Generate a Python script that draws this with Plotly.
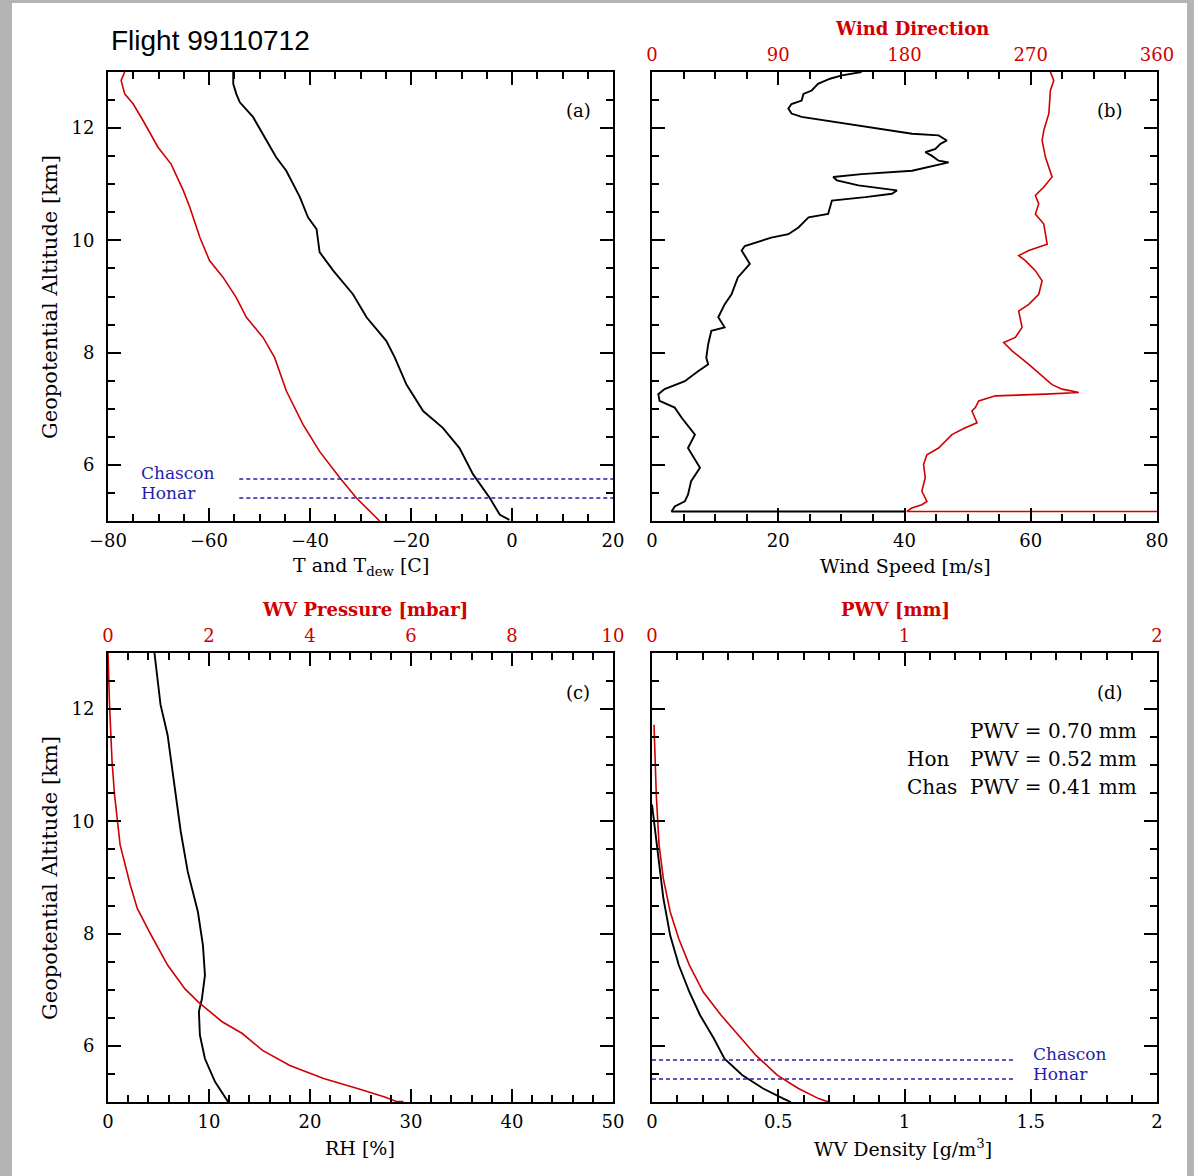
import plotly.graph_objects as go

# ---------------- data ----------------
# Panel (a): temperature and dew point
alt_T = [13.0, 12.79, 12.61, 12.46, 12.2, 11.84, 11.48, 11.24, 10.77, 10.41, 10.20, 9.79, 9.46,
         9.04, 8.63, 8.21, 7.91, 7.43, 6.96, 6.66, 6.30, 5.83, 5.41, 5.11, 5.02]
temp_T = [-55.2, -55.2, -54.6, -53.9, -51.3, -49.0, -46.7, -44.7, -42.0, -40.4, -38.7, -38.1, -35.4,
          -31.5, -28.8, -24.9, -23.2, -20.9, -17.6, -13.7, -10.4, -7.7, -4.4, -2.4, -0.5]
alt_Td = [13.0, 12.85, 12.61, 12.43, 12.14, 11.66, 11.36, 10.89, 10.59, 10.05, 9.64, 9.34, 8.98,
          8.63, 8.27, 7.91, 7.32, 6.72, 6.24, 5.77, 5.41, 5.0]
temp_Td = [-76.7, -77.4, -76.7, -75.0, -73.1, -70.1, -67.5, -65.1, -63.8, -61.8, -59.9, -57.2, -54.6,
           -52.6, -49.3, -47.0, -44.7, -41.4, -38.1, -34.1, -30.8, -26.2]

# Site altitudes (km) and extent of the marker lines
site_names = ["Chascon", "Honar"]
site_alt = [5.75, 5.41]
site_T_range = [-54.0, 20.0]
site_dens_range = [0.0, 1.44]

# Panel (b): wind speed and direction
alt_ws = [13.0, 12.94, 12.88, 12.79, 12.67, 12.61, 12.49, 12.43, 12.35, 12.26, 12.2, 12.08, 11.99,
          11.9, 11.87, 11.78, 11.72, 11.63, 11.57, 11.51, 11.42, 11.39, 11.24, 11.18, 11.13, 11.07,
          10.98, 10.92, 10.89, 10.83, 10.77, 10.71, 10.47, 10.41, 10.23, 10.11, 10.05, 9.9, 9.82,
          9.58, 9.34, 9.04, 8.86, 8.63, 8.45, 8.39, 8.15, 7.91, 7.79, 7.67, 7.49, 7.35, 7.26, 7.14,
          7.02, 6.84, 6.54, 6.30, 6.01, 5.95, 5.71, 5.47, 5.35, 5.26, 5.17, 5.17]
wind_speed = [33.2, 30.1, 28.2, 26.3, 25.3, 24.0, 23.7, 22.1, 21.6, 22.1, 23.7, 30.6, 35.9,
              41.2, 45.4, 46.7, 45.7, 44.9, 43.3, 44.3, 45.4, 47.0, 41.2, 33.2, 28.7, 29.3,
              32.7, 36.9, 38.8, 38.0, 33.8, 28.5, 27.9, 24.8, 23.2, 21.6, 18.9, 14.7, 14.2,
              15.5, 13.6, 12.6, 11.5, 10.5, 11.5, 9.4, 8.9, 8.6, 8.9, 7.3, 5.2, 2.0, 1.0, 1.2,
              3.6, 4.7, 6.8, 5.7, 7.3, 7.6, 6.2, 5.7, 5.2, 3.6, 3.1, 40.0]
alt_wd = [13.0, 12.85, 12.67, 12.26, 11.96, 11.78, 11.48, 11.13, 10.95, 10.8, 10.65, 10.47, 10.29,
          9.93, 9.82, 9.73, 9.64, 9.46, 9.28, 9.04, 8.86, 8.74, 8.45, 8.27, 8.18, 8.03, 7.79,
          7.55, 7.43, 7.35, 7.29, 7.26, 7.23, 7.14, 7.02, 6.96, 6.75, 6.66, 6.54, 6.30, 6.18,
          6.01, 5.77, 5.53, 5.35, 5.29, 5.23, 5.17, 5.17]
wind_dir = [284.0, 286.4, 284.0, 282.9, 279.3, 278.1, 280.5, 285.2, 279.3, 273.3, 275.7, 273.3, 279.3,
            281.7, 268.6, 261.4, 266.2, 273.3, 278.1, 275.7, 268.6, 261.4, 263.8, 259.0, 250.7, 256.7,
            268.6, 279.3, 285.2, 292.4, 304.3, 280.5, 244.8, 232.9, 230.5, 228.1, 231.7, 223.3,
            213.8, 204.3, 196.0, 193.6, 194.8, 192.4, 196.0, 192.4, 185.2, 181.7, 360.0]

# Panel (c): relative humidity and water vapour pressure
alt_rh = [13.0, 12.08, 11.54, 10.59, 9.82, 9.10, 8.39, 7.79, 7.26, 6.84, 6.61, 6.19, 5.77, 5.36, 5.0]
rh = [4.6, 5.2, 5.9, 6.6, 7.2, 7.9, 8.9, 9.4, 9.6, 9.3, 9.0, 9.1, 9.6, 10.6, 11.9]
alt_e = [13.0, 12.08, 11.07, 10.47, 9.58, 8.87, 8.45, 7.98, 7.44, 7.02, 6.78, 6.43, 6.22, 5.92,
         5.65, 5.42, 5.24, 5.09, 5.01, 5.01]
wv_pressure = [0.0, 0.03, 0.08, 0.13, 0.24, 0.44, 0.58, 0.85, 1.18, 1.52, 1.79, 2.26, 2.66, 3.06,
               3.60, 4.27, 4.94, 5.48, 5.71, 5.85]

# Panel (d): water vapour density and integrated PWV
alt_rho = [10.3, 9.46, 8.63, 7.97, 7.44, 6.96, 6.55, 6.13, 5.77, 5.48, 5.24, 5.06, 5.0]
wv_density = [0.0, 0.022, 0.045, 0.072, 0.106, 0.148, 0.19, 0.245, 0.287, 0.357, 0.44, 0.52, 0.55]
alt_pwv = [11.72, 10.47, 9.58, 8.98, 8.39, 7.91, 7.44, 6.96, 6.55, 6.19, 5.83, 5.48, 5.24, 5.06, 5.0]
pwv = [0.008, 0.017, 0.028, 0.045, 0.072, 0.106, 0.148, 0.203, 0.273, 0.343, 0.412, 0.496, 0.58,
       0.66, 0.70]
pwv_labels = ["", "Hon", "Chas"]
pwv_values = ["0.70", "0.52", "0.41"]

# ---------------- styling ----------------
W, H = 1194, 1176
FONT = "DejaVu Serif"
RED = "#d00000"
BLUE = "#1f1fa8"
BLACK = "black"


def px(x):
    return x / W


def py(y):
    return 1 - y / H


XA = [px(108), px(613)]
XB = [px(652), px(1157)]
YTOP = [py(521), py(72)]
YBOT = [py(1102), py(653)]

fig = go.Figure()

# panel a
fig.add_trace(go.Scatter(x=temp_T, y=alt_T, mode="lines", line=dict(color=BLACK, width=1.9),
                         xaxis="x", yaxis="y"))
fig.add_trace(go.Scatter(x=temp_Td, y=alt_Td, mode="lines", line=dict(color=RED, width=1.6),
                         xaxis="x", yaxis="y"))
for a in site_alt:
    fig.add_trace(go.Scatter(x=site_T_range, y=[a, a], mode="lines",
                             line=dict(color=BLUE, width=1.5, dash="4px,3px"), xaxis="x", yaxis="y"))

# panel b
fig.add_trace(go.Scatter(x=wind_speed, y=alt_ws, mode="lines", line=dict(color=BLACK, width=1.9),
                         xaxis="x2", yaxis="y2"))
fig.add_trace(go.Scatter(x=wind_dir, y=alt_wd, mode="lines", line=dict(color=RED, width=1.6),
                         xaxis="x3", yaxis="y2"))

# panel c
fig.add_trace(go.Scatter(x=rh, y=alt_rh, mode="lines", line=dict(color=BLACK, width=1.9),
                         xaxis="x4", yaxis="y3"))
fig.add_trace(go.Scatter(x=wv_pressure, y=alt_e, mode="lines", line=dict(color=RED, width=1.6),
                         xaxis="x5", yaxis="y3"))

# panel d
fig.add_trace(go.Scatter(x=wv_density, y=alt_rho, mode="lines", line=dict(color=BLACK, width=1.9),
                         xaxis="x6", yaxis="y4"))
fig.add_trace(go.Scatter(x=pwv, y=alt_pwv, mode="lines", line=dict(color=RED, width=1.6),
                         xaxis="x7", yaxis="y4"))
for a in site_alt:
    fig.add_trace(go.Scatter(x=site_dens_range, y=[a, a], mode="lines",
                             line=dict(color=BLUE, width=1.5, dash="4px,3px"), xaxis="x6", yaxis="y4"))

TICKFONT = dict(family=FONT, size=18, color=BLACK)


def xaxis(domain, anchor, rng, tickvals, minor_dtick, ticktext=None, side="bottom",
          overlaying=None, mirror=False, color=BLACK):
    d = dict(domain=domain, anchor=anchor, range=rng, tickmode="array", tickvals=tickvals,
             ticks="inside", ticklen=13, tickwidth=1.6, tickcolor=BLACK,
             showline=True, linecolor=BLACK, linewidth=2, mirror=mirror, side=side,
             showgrid=False, zeroline=False, automargin=False, ticklabelstandoff=2,
             tickfont=dict(family=FONT, size=18, color=color),
             minor=dict(dtick=minor_dtick, tick0=0, ticks="inside", ticklen=7, tickwidth=1.6,
                        tickcolor=BLACK, showgrid=False))
    if ticktext is not None:
        d["ticktext"] = ticktext
    if overlaying:
        d["overlaying"] = overlaying
    return d


def yaxis(domain, anchor, labels=True):
    return dict(domain=domain, anchor=anchor, range=[5, 13], tickmode="array",
                tickvals=[6, 8, 10, 12], ticks="inside", ticklen=13, tickwidth=1.6, tickcolor=BLACK,
                showline=True, linecolor=BLACK, linewidth=2, mirror="ticks",
                showgrid=False, zeroline=False, automargin=False, showticklabels=labels,
                ticklabelstandoff=8, tickfont=TICKFONT,
                minor=dict(dtick=0.5, tick0=0, ticks="inside", ticklen=7, tickwidth=1.6,
                           tickcolor=BLACK, showgrid=False))


fig.update_layout(
    xaxis=xaxis(XA, "y", [-80, 20], [-80, -60, -40, -20, 0, 20], 5, mirror="ticks"),
    yaxis=yaxis(YTOP, "x"),
    xaxis2=xaxis(XB, "y2", [0, 80], [0, 20, 40, 60, 80], 5),
    xaxis3=xaxis(XB, "y2", [0, 360], [0, 90, 180, 270, 360], 22.5, side="top",
                 overlaying="x2", color=RED),
    yaxis2=yaxis(YTOP, "x2", labels=False),
    xaxis4=xaxis(XA, "y3", [0, 50], [0, 10, 20, 30, 40, 50], 2),
    xaxis5=xaxis(XA, "y3", [0, 10], [0, 2, 4, 6, 8, 10], 0.4, side="top",
                 overlaying="x4", color=RED),
    yaxis3=yaxis(YBOT, "x4"),
    xaxis6=xaxis(XB, "y4", [0, 2], [0, 0.5, 1, 1.5, 2], 0.1,
                 ticktext=["0", "0.5", "1", "1.5", "2"]),
    xaxis7=xaxis(XB, "y4", [0, 2], [0, 1, 2], 0.1, side="top", overlaying="x6", color=RED),
    yaxis4=yaxis(YBOT, "x6", labels=False),
)


def note(text, x, y, size=18, color=BLACK, xanchor="center", family=FONT, angle=0):
    fig.add_annotation(text=text, x=px(x), y=py(y), xref="paper", yref="paper", showarrow=False,
                       xanchor=xanchor, yanchor="middle", textangle=angle,
                       font=dict(family=family, size=size, color=color))


note("Flight 99110712", 109, 40, size=28, xanchor="left", family="Liberation Sans")
# axis titles
note("T and T<sub>dew</sub> [C]", 361, 566, size=19)
note("Wind Speed [m/s]", 905, 566, size=19)
note("<b>Wind Direction</b>", 912, 28, size=18, color=RED)
note("Geopotential Altitude [km]", 50, 297, size=21, angle=-90)
note("Geopotential Altitude [km]", 50, 878, size=21, angle=-90)
note("<b>WV Pressure [mbar]</b>", 365, 609, size=18, color=RED)
note("RH [%]", 360, 1148, size=19)
note("<b>PWV [mm]</b>", 895, 609, size=18, color=RED)
note("WV Density [g/m<sup>3</sup>]", 903, 1148, size=19)
# panel labels
note("(a)", 578, 110)
note("(b)", 1110, 110)
note("(c)", 578, 692)
note("(d)", 1110, 692)
# site labels
note(site_names[0], 139, 473, size=17, color=BLUE, xanchor="left")
note(site_names[1], 139, 493, size=17, color=BLUE, xanchor="left")
note(site_names[0], 1031, 1054, size=17, color=BLUE, xanchor="left")
note(site_names[1], 1031, 1074, size=17, color=BLUE, xanchor="left")
# PWV values
for i, (lab, val) in enumerate(zip(pwv_labels, pwv_values)):
    yy = 731 + 28 * i
    note(f"PWV = {val} mm", 1139, yy, size=20, xanchor="right")
    if lab:
        note(lab, 905, yy, size=20, xanchor="left")

fig.add_shape(type="rect", xref="paper", yref="paper", x0=px(12), x1=px(1187), y0=0, y1=py(3),
              fillcolor="white", line=dict(width=0), layer="below")

fig.update_layout(width=W, height=H, margin=dict(l=0, r=0, t=0, b=0), template="none",
                  paper_bgcolor="#b4b4b4", plot_bgcolor="white", showlegend=False)

fig.write_html("out.html", config={"displayModeBar": False},
               post_script="document.body.style.margin='0';"
                           "document.body.style.background='#b4b4b4';")
